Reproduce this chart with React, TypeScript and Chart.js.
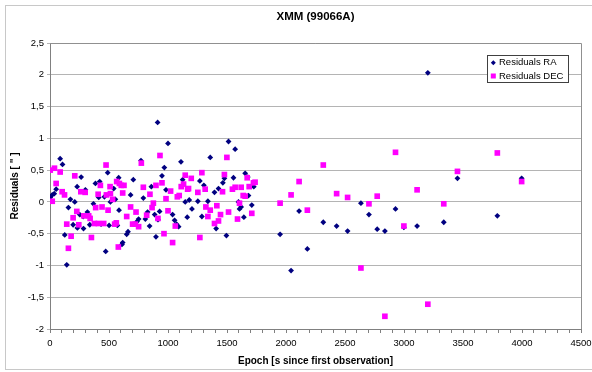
import React, { useEffect, useRef } from "react";
import { Chart, registerables } from "chart.js";

Chart.register(...registerables);

const chartTitle = "XMM (99066A)";
const xAxisTitle = "Epoch [s since first observation]";
const yAxisTitle = 'Residuals [ " ]';
const seriesNames = ["Residuals RA", "Residuals DEC"];

const raEpoch = [
  2, 19, 36, 52, 86, 106, 125, 142, 156, 173, 196, 210, 230, 232, 252, 264, 281, 284, 300, 317,
  337, 368, 385, 413, 421, 433, 461, 472, 489, 501, 512, 540, 554, 557, 571, 582, 585, 610, 616, 650,
  661, 683, 706, 737, 751, 771, 791, 808, 827, 844, 859, 887, 898, 912, 915, 929, 949, 969, 983, 1000,
  1039, 1056, 1073, 1090, 1110, 1124, 1146, 1163, 1180, 1203, 1253, 1270, 1287, 1304, 1338, 1358, 1394, 1408, 1428, 1465,
  1478, 1495, 1513, 1555, 1569, 1597, 1606, 1620, 1643, 1654, 1676, 1682, 1710, 1727,
  1950, 2043, 2111, 2181, 2316, 2429, 2522, 2635, 2703, 2773, 2838, 2928, 2999, 3111, 3202, 3337, 3453, 3791, 3997,
];
const raResidual = [
  0.07, 0.11, 0.13, 0.2, 0.68, 0.59, -0.52, -0.99, -0.09, 0.04, -0.36, 0.0, 0.24, -0.41, -0.2, 0.39, -0.23, -0.42, 0.19, -0.16,
  -0.36, -0.03, 0.29, 0.07, 0.32, -0.35, 0.08, -0.78, 0.46, -0.37, 0.0, 0.21, 0.04, -0.34, -0.37, 0.38, -0.13, -0.67, -0.64, -0.51,
  -0.47, 0.11, 0.35, -0.31, -0.27, 0.65, 0.06, -0.27, -0.16, -0.38, 0.24, -0.2, -0.55, 1.25, -0.28, -0.15, 0.41, 0.54, 0.19, 0.92,
  -0.2, -0.29, -0.35, -0.39, 0.63, 0.35, 0.0, -0.24, 0.03, -0.11, 0.01, 0.33, -0.23, 0.26, 0.01, 0.7, 0.15, -0.42, 0.21, 0.3,
  0.37, -0.53, 0.95, 0.38, 0.83, 0.0, -0.11, -0.08, -0.24, 0.45, 0.39, 0.1, -0.05, 0.24,
  -0.51, -1.08, -0.145, -0.74, -0.32, -0.38, -0.46, -0.02, -0.2, -0.43, -0.46, -0.11, -0.4, -0.38, 2.03, -0.32, 0.37, -0.22, 0.37,
];

const decEpoch = [
  2, 19, 38, 52, 86, 103, 123, 142, 156, 179, 196, 210, 227, 244, 261, 286, 298, 328, 340, 351,
  376, 387, 408, 410, 427, 441, 455, 475, 478, 492, 509, 512, 531, 548, 562, 565, 579, 588, 604, 616,
  627, 650, 683, 700, 723, 729, 751, 774, 791, 819, 847, 865, 876, 898, 915, 932, 949, 966, 983, 1000,
  1022, 1039, 1062, 1079, 1095, 1112, 1132, 1146, 1166, 1174, 1197, 1253, 1270, 1287, 1315, 1321, 1338, 1358, 1394, 1414,
  1428, 1445, 1462, 1478, 1499, 1513, 1546, 1569, 1589, 1606, 1620, 1637, 1654, 1671, 1688, 1710, 1724, 1738,
  1950, 2043, 2111, 2181, 2316, 2429, 2522, 2635, 2703, 2773, 2838, 2928, 2999, 3111, 3202, 3337, 3453, 3791, 3997,
];
const decResidual = [
  0.5, 0.01, 0.53, 0.29, 0.47, 0.16, 0.11, -0.35, -0.73, -0.54, -0.25, 0.41, -0.15, -0.36, 0.16, -0.22, 0.15, -0.22, -0.26, -0.56,
  -0.34, -0.09, 0.12, -0.34, 0.26, -0.08, -0.34, 0.58, 0.11, -0.13, 0.24, 0.13, 0.04, -0.35, -0.33, 0.32, -0.71, 0.29, 0.26, 0.14,
  0.26, -0.23, -0.08, -0.35, -0.35, -0.16, -0.39, 0.61, 0.23, -0.21, 0.12, -0.09, -0.02, 0.26, -0.26, 0.73, 0.3, -0.5, 0.05, -0.14,
  0.17, -0.64, -0.38, 0.08, 0.1, 0.24, 0.28, 0.42, 0.2, 0.21, 0.37, 0.15, -0.56, 0.46, 0.2, -0.08, -0.23, -0.13, -0.34, -0.06,
  -0.3, -0.2, 0.16, 0.43, 0.7, -0.16, 0.2, 0.23, -0.27, -0.02, 0.23, 0.1, 0.09, 0.38, 0.24, -0.18, 0.3, 0.31,
  -0.02, 0.11, 0.32, -0.13, 0.58, 0.13, 0.07, -1.04, -0.03, 0.09, -1.8, 0.78, -0.38, 0.19, -1.61, -0.03, 0.48, 0.77, 0.32,
];

const xMin = 0;
const xMax = 4500;
const xMajorStep = 500;
const xMinorStep = 100;
const yMin = -2;
const yMax = 2.5;
const yStep = 0.5;

const RA_COLOR = "#000080";
const DEC_COLOR = "#ff00ff";
const FONT = "'Liberation Sans', Arial, sans-serif";

const decorPlugin = {
  id: "decor",
  beforeDraw(chart: any) {
    const ctx = chart.ctx;
    ctx.save();
    ctx.fillStyle = "#ffffff";
    ctx.fillRect(0, 0, chart.width, chart.height);
    ctx.strokeStyle = "#c8c8c8";
    ctx.lineWidth = 1;
    ctx.strokeRect(5.5, 5.5, 587, 364);
    ctx.restore();
  },
  beforeDatasetsDraw(chart: any) {
    const { ctx, chartArea } = chart;
    ctx.save();
    ctx.strokeStyle = "#909090";
    ctx.lineWidth = 1;
    ctx.beginPath();
    const r = Math.round(chartArea.right) + 0.5;
    const t = Math.round(chartArea.top) + 0.5;
    ctx.moveTo(Math.round(chartArea.left), t);
    ctx.lineTo(r, t);
    ctx.lineTo(r, Math.round(chartArea.bottom));
    ctx.stroke();
    ctx.restore();
  },
  afterDraw(chart: any) {
    const { ctx, chartArea } = chart;
    ctx.save();
    ctx.fillStyle = "#000000";
    ctx.font = `bold 11.5px ${FONT}`;
    ctx.textAlign = "center";
    ctx.textBaseline = "middle";
    ctx.fillText(chartTitle, (chartArea.left + chartArea.right) / 2, 16.5);
    ctx.fillStyle = "#ffffff";
    ctx.fillRect(487.5, 55.5, 81, 27);
    ctx.strokeStyle = "#404040";
    ctx.lineWidth = 1;
    ctx.strokeRect(487.5, 55.5, 81, 27);
    ctx.fillStyle = RA_COLOR;
    ctx.beginPath();
    ctx.moveTo(493.3, 60.2);
    ctx.lineTo(495.8, 62.7);
    ctx.lineTo(493.3, 65.2);
    ctx.lineTo(490.8, 62.7);
    ctx.closePath();
    ctx.fill();
    ctx.fillStyle = DEC_COLOR;
    ctx.fillRect(490.8, 73.5, 5, 5);
    ctx.fillStyle = "#000000";
    ctx.font = `9.5px ${FONT}`;
    ctx.textAlign = "left";
    ctx.textBaseline = "middle";
    ctx.fillText(seriesNames[0], 499, 62.8);
    ctx.fillText(seriesNames[1], 499, 76.2);
    ctx.restore();
  },
};

export default function App() {
  const canvasRef = useRef<HTMLCanvasElement | null>(null);

  useEffect(() => {
    document.body.style.margin = "0";
    const canvas = canvasRef.current;
    if (!canvas) return;

    const raData = raEpoch.map((x, i) => ({ x, y: raResidual[i] }));
    const decData = decEpoch.map((x, i) => ({ x, y: decResidual[i] }));

    const chart = new Chart(canvas, {
      type: "scatter",
      data: {
        datasets: [
          {
            label: seriesNames[0],
            data: raData,
            backgroundColor: RA_COLOR,
            borderColor: RA_COLOR,
            borderWidth: 0,
            pointStyle: "rectRot",
            pointRadius: 2.9,
            order: 2,
          },
          {
            label: seriesNames[1],
            data: decData,
            backgroundColor: DEC_COLOR,
            borderColor: DEC_COLOR,
            borderWidth: 0,
            pointStyle: "rect",
            pointRadius: 4,
            order: 1,
          },
        ],
      },
      options: {
        animation: false,
        responsive: false,
        maintainAspectRatio: false,
        events: [],
        layout: { padding: { top: 43, left: 5, right: 11, bottom: 4 } },
        plugins: {
          legend: { display: false },
          title: { display: false },
          tooltip: { enabled: false },
        },
        scales: {
          x: {
            type: "linear",
            min: xMin,
            max: xMax,
            afterFit(scale: any) {
              scale.height = 39;
              scale.paddingRight = 0;
              scale.paddingLeft = 0;
            },
            ticks: {
              stepSize: xMinorStep,
              autoSkip: false,
              maxRotation: 0,
              minRotation: 0,
              padding: 5,
              color: "#000000",
              font: { family: FONT, size: 9.5 },
              callback: (v: any) => (Number(v) % xMajorStep === 0 ? String(v) : ""),
            },
            grid: {
              display: true,
              drawOnChartArea: false,
              drawTicks: true,
              tickLength: 4,
              color: "#808080",
            },
            border: { display: true, color: "#808080" },
            title: {
              display: true,
              text: xAxisTitle,
              color: "#000000",
              font: { family: FONT, size: 10, weight: "bold" },
              padding: { top: 0, bottom: 1 },
            },
          },
          y: {
            type: "linear",
            min: yMin,
            max: yMax,
            afterFit(scale: any) {
              scale.width = 45;
              scale.paddingTop = 0;
              scale.paddingBottom = 0;
            },
            ticks: {
              stepSize: yStep,
              padding: 3,
              color: "#000000",
              font: { family: FONT, size: 9.5 },
              callback: (v: any) => String(v).replace(".", ","),
            },
            grid: {
              display: true,
              drawOnChartArea: true,
              drawTicks: true,
              tickLength: 3,
              color: "#b4b4b4",
            },
            border: { display: true, color: "#808080" },
            title: {
              display: true,
              text: yAxisTitle,
              color: "#000000",
              font: { family: FONT, size: 10, weight: "bold" },
              padding: { top: 4, bottom: 0 },
            },
          },
        },
      },
      plugins: [decorPlugin],
    });

    return () => chart.destroy();
  }, []);

  return (
    <div style={{ position: "absolute", left: 0, top: 0, width: 592, height: 372 }}>
      <canvas ref={canvasRef} width={592} height={372} style={{ width: 592, height: 372, display: "block" }} />
    </div>
  );
}
